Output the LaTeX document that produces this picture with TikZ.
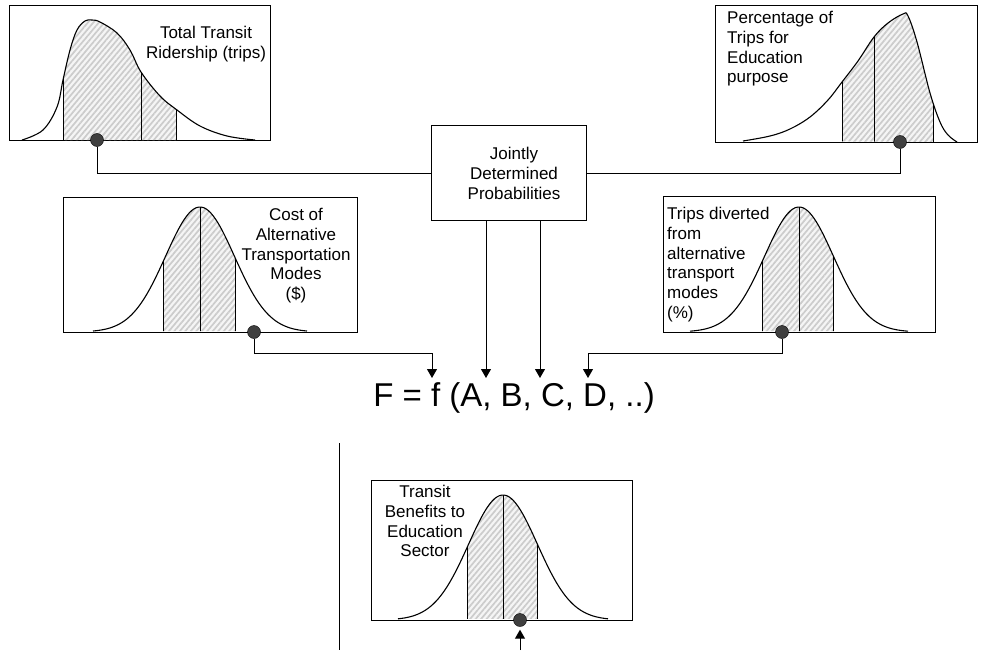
\documentclass[tikz,border=0pt]{standalone}
\usepackage{fontspec}
\setmainfont{Liberation Sans}
\usetikzlibrary{arrows.meta,patterns.meta,calc}
\newcommand{\mybell}[4]{plot[domain=#1:#2,samples=90,smooth] (\x,{#4-125*exp(-((\x-#3)^2)/2366.7)})}
\begin{document}
\begin{tikzpicture}[x=1pt,y=-1pt,
  frame/.style={draw=black, line width=1pt, inner sep=0, anchor=north west},
  curve/.style={line width=1.1pt},
  hatch/.style={pattern={Lines[angle=50,distance=4.2pt,line width=1.7pt]}, pattern color=gray!40},
  hatchbg/.style={fill=gray!8},
  dot/.style={circle, draw=black, fill=black!75, minimum size=13pt, inner sep=0},
  conn/.style={line width=1pt},
  arr/.style={conn, -{Triangle[width=10pt,length=9pt]}},
  lbl/.style={font=\fontsize{17}{19.8}\selectfont, inner sep=0},
  big/.style={font=\fontsize{33}{38}\selectfont, inner sep=0}]
\useasboundingbox (0,0) rectangle (981,650);

% ---------- Box 1: Total Transit Ridership ----------
\node[frame, minimum width=261pt, minimum height=135pt] (b1) at (9,5) {};
\def\skewA{plot[smooth,tension=0.6] coordinates {(22,140) (43,130) (57,107) (63,80) (70,50) (77,30) (85,21) (92,20) (100,22) (117,33) (130,50) (141,72) (160,96) (177,110) (200,126) (227,136) (255,140)}}
\begin{scope}
  \clip \skewA -- cycle;
  \fill[hatchbg] (63,0) rectangle (176,140);
  \fill[hatch] (63,0) rectangle (176,140);
  \draw[conn] (63,0) -- (63,140) (141,0) -- (141,140) (176,0) -- (176,140);
\end{scope}
\draw[curve] \skewA;
\node[dot] (d1) at (97,140) {};
\node[lbl, align=center, anchor=north] (t1) at (206,26) {Total Transit\\Ridership (trips)};

% ---------- Box 2: Percentage of Trips ----------
\node[frame, minimum width=262pt, minimum height=137pt] (b2) at (715,5) {};
\def\skewB{plot[smooth,tension=0.6] coordinates {(743,141) (770,136) (790,129) (810,117) (828,100) (842,82) (858,61) (874,37) (888,23) (903,14) (908,16) (917,42) (930,93) (940,122) (948,135) (957,142)}}
\begin{scope}
  \clip \skewB -- cycle;
  \fill[hatchbg] (842,0) rectangle (933,142);
  \fill[hatch] (842,0) rectangle (933,142);
  \draw[conn] (842,0) -- (842,142) (874,0) -- (874,142) (933,0) -- (933,142);
\end{scope}
\draw[curve] \skewB;
\node[dot] (d2) at (900,142) {};
\node[lbl, align=left, anchor=north west] (t2) at (727,11) {Percentage of\\Trips for\\Education\\purpose};

% ---------- Jointly determined ----------
\node[frame, minimum width=155pt, minimum height=95pt] (joint) at (431,125) {};
\node[lbl, align=center, anchor=north] (tj) at (514,147) {Jointly\\Determined\\Probabilities};

% ---------- Box 3: Cost ----------
\node[frame, minimum width=294pt, minimum height=135pt] (b3) at (63,197) {};
\begin{scope}
  \clip \mybell{93}{307}{200}{332} -- cycle;
  \fill[hatchbg] (163,150) rectangle (235,332);
  \fill[hatch] (163,150) rectangle (235,332);
  \draw[conn] (163,150) -- (163,332) (200,150) -- (200,332) (235,150) -- (235,332);
\end{scope}
\draw[curve] \mybell{93}{307}{200}{332};
\node[dot] (d3) at (254,332) {};
\node[lbl, align=center, anchor=north] (t3) at (296,208) {Cost of\\Alternative\\Transportation\\Modes\\(\$)};

% ---------- Box 4: Trips diverted ----------
\node[frame, minimum width=272pt, minimum height=136pt] (b4) at (663,196) {};
\begin{scope}
  \clip \mybell{690}{908}{799}{332} -- cycle;
  \fill[hatchbg] (762,150) rectangle (833,332);
  \fill[hatch] (762,150) rectangle (833,332);
  \draw[conn] (762,150) -- (762,332) (799,150) -- (799,332) (833,150) -- (833,332);
\end{scope}
\draw[curve] \mybell{690}{908}{799}{332};
\node[dot] (d4) at (782,332) {};
\node[lbl, align=left, anchor=north west] (t4) at (667,207) {Trips diverted\\from\\alternative\\transport\\modes\\(\%)};

% ---------- Formula ----------
\node[big, anchor=base] (F) at (514,406) {F = f (A, B, C, D, ..)};
\coordinate (a1) at (432,378);
\coordinate (a2) at (486,378);
\coordinate (a3) at (540,378);
\coordinate (a4) at (588,378);
\coordinate (k1) at (432,353);
\coordinate (k4) at (588,353);

% ---------- Box 5: Transit Benefits ----------
\node[frame, minimum width=261pt, minimum height=140pt] (b5) at (371,480) {};
\begin{scope}
  \clip \mybell{398}{608}{503}{620} -- cycle;
  \fill[hatchbg] (467,450) rectangle (537,620);
  \fill[hatch] (467,450) rectangle (537,620);
  \draw[conn] (467,450) -- (467,620) (503,450) -- (503,620) (537,450) -- (537,620);
\end{scope}
\draw[curve] \mybell{398}{608}{503}{620};
\node[dot] (d5) at (520,620) {};
\node[lbl, align=center, anchor=north] (t5) at (425,485) {Transit\\Benefits to\\Education\\Sector};
\coordinate (s5) at (520,650);
\coordinate (v1) at (339,443);
\coordinate (v2) at (339,650);

% ---------- Connectors ----------
\draw[conn] (d1) |- (joint.west);
\draw[conn] (d2) |- (joint.east);
\draw[arr] (joint.south -| a2) -- (a2);
\draw[arr] (joint.south -| a3) -- (a3);
\draw[arr] (d3) |- (k1) -- (a1);
\draw[arr] (d4) |- (k4) -- (a4);
\draw[arr, shorten >=3pt] (s5) -- (d5);
\draw[conn] (v1) -- (v2);
\end{tikzpicture}
\end{document}
